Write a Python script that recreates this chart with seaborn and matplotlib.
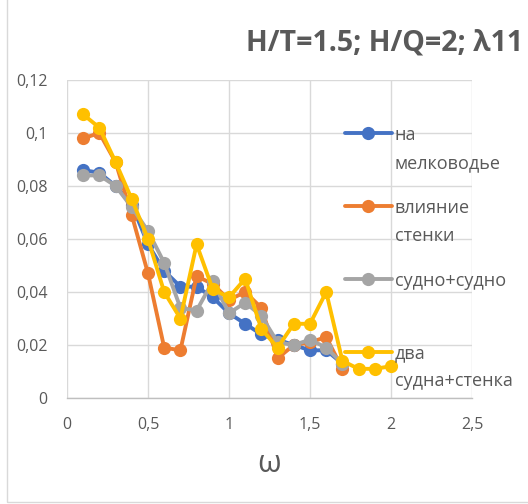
import matplotlib
matplotlib.use("Agg")
import matplotlib.pyplot as plt
from matplotlib.lines import Line2D
from matplotlib.patches import Rectangle
import pandas as pd
import seaborn as sns

# Frequencies and coefficient values for each case
omega = [0.1, 0.2, 0.3, 0.4, 0.5, 0.6, 0.7, 0.8, 0.9, 1.0,
         1.1, 1.2, 1.3, 1.4, 1.5, 1.6, 1.7, 1.8, 1.9, 2.0]
shallow = [0.086, 0.085, 0.080, 0.073, 0.058, 0.048, 0.042, 0.042, 0.038, 0.032,
           0.028, 0.024, 0.022, 0.020, 0.018, 0.018, 0.013]
wall = [0.098, 0.100, 0.089, 0.069, 0.047, 0.019, 0.018, 0.046, 0.043, 0.037,
        0.040, 0.034, 0.015, 0.020, 0.021, 0.023, 0.011]
ship_ship = [0.084, 0.084, 0.080, 0.072, 0.063, 0.051, 0.034, 0.033, 0.044, 0.032,
             0.036, 0.031, 0.021, 0.020, 0.022, 0.019, 0.013]
two_ships_wall = [0.107, 0.102, 0.089, 0.075, 0.060, 0.040, 0.030, 0.058, 0.041, 0.038,
                  0.045, 0.026, 0.019, 0.028, 0.028, 0.040, 0.014, 0.011, 0.011, 0.012]

series_names = ["на\nмелководье", "влияние\nстенки", "судно+судно\n", "два\nсудна+стенка"]
series_values = [shallow, wall, ship_ship, two_ships_wall]
colors = ["#4472C4", "#ED7D31", "#A5A5A5", "#FFC000"]

x_ticks = [0, 0.5, 1, 1.5, 2, 2.5]
x_tick_labels = ["0", "0,5", "1", "1,5", "2", "2,5"]
y_ticks = [0, 0.02, 0.04, 0.06, 0.08, 0.10, 0.12]
y_tick_labels = ["0", "0,02", "0,04", "0,06", "0,08", "0,1", "0,12"]

rows = []
for name, vals in zip(series_names, series_values):
    for w, v in zip(omega, vals):
        rows.append({"omega": w, "value": v, "series": name})
df = pd.DataFrame(rows)

sns.set_theme(style="white")
plt.rcParams["font.family"] = ["Open Sans", "DejaVu Sans"]

text_gray = "#595959"
W, H = 528, 504
fig = plt.figure(figsize=(W / 100, H / 100), dpi=100)
ax = fig.add_axes([67 / W, (H - 398) / H, (472 - 67) / W, (398 - 80) / H])

sns.lineplot(data=df, x="omega", y="value", hue="series", hue_order=series_names,
             palette=colors, marker="o", markersize=9.5, markeredgewidth=0,
             linewidth=2.8, sort=False, estimator=None, legend=False, ax=ax,
             clip_on=False)

ax.set_xlim(0, 2.5)
ax.set_ylim(0, 0.12)
ax.set_xticks(x_ticks)
ax.set_xticklabels(x_tick_labels)
ax.set_yticks(y_ticks)
ax.set_yticklabels(y_tick_labels)
ax.grid(True, color="#D9D9D9", linewidth=1.0)
ax.set_axisbelow(True)
for side in ["top", "right", "left"]:
    ax.spines[side].set_visible(False)
ax.spines["bottom"].set_color("#BFBFBF")
ax.spines["bottom"].set_linewidth(1.0)
ax.tick_params(axis="both", length=0, labelsize=11.5, colors=text_gray)
ax.tick_params(axis="y", pad=14)
ax.tick_params(axis="x", pad=14)
ax.set_xlabel("ω", fontsize=22, color=text_gray, labelpad=11)
ax.set_ylabel("")

handles = [Line2D([], [], color=c, marker="o", markersize=9.5, markeredgewidth=0,
                  linewidth=2.8) for c in colors]
leg = fig.legend(handles, series_names, loc="upper left",
                 bbox_to_anchor=(345 / W, 1 - 126 / H), frameon=False,
                 fontsize=13, labelcolor=text_gray, handlelength=2.6,
                 handleheight=1.0, handletextpad=0.15, borderpad=0,
                 borderaxespad=0, labelspacing=1.5)
for t in leg.get_texts():
    t.set_linespacing(1.7)
for col in leg._legend_handle_box.get_children():
    for item in col.get_children():
        item.align = "top"

fig.text(523 / W, 1 - 43 / H, "H/T=1.5; H/Q=2; λ11", ha="right", va="center",
         fontsize=20.5, fontweight="bold", color=text_gray)

fig.patches.append(Rectangle((7 / W, 2 / H), 1.2, 1.2, transform=fig.transFigure,
                             fill=False, edgecolor="#D9D9D9", linewidth=1.0))

fig.savefig("out.png", dpi=100)
